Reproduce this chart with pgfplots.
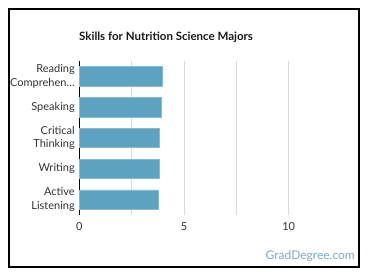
\documentclass[border=0pt]{standalone}
\usepackage{pgfplots}
\pgfplotsset{compat=1.18}
\usepackage{fontspec}
\setmainfont{Lato}
\definecolor{barc}{HTML}{5DA3C1}
\definecolor{barb}{HTML}{86BBD3}
\definecolor{gridc}{HTML}{D9D9D9}
\definecolor{txt}{HTML}{333333}
\definecolor{wm}{HTML}{7AAAC8}
\begin{document}
\begin{tikzpicture}[x=1pt,y=1pt]
\path[fill=white] (0,0) rectangle (370,278);
\draw[line width=1.2pt] (9,11) rectangle (359,269);
\node[font=\bfseries\fontsize{11.5}{13}\selectfont, text=black!90, anchor=west, inner sep=0pt] at (79,241) {Skills for Nutrition Science Majors};
\node[font=\fontsize{12}{14}\selectfont, text=wm, anchor=east, inner sep=0pt] at (355,22) {GradDegree.com};
\begin{axis}[
  at={(79.3pt,63pt)}, anchor=south west,
  scale only axis, width=261.7pt, height=154pt,
  xbar, xmin=0, xmax=12.5, ymin=-0.5, ymax=4.5,
  y dir=reverse,
  bar width=19.5pt,
  ytick={0,1,2,3,4},
  yticklabels={{Reading\\Comprehen…},{Speaking},{Critical\\Thinking},{Writing},{Active\\Listening}},
  yticklabel style={align=right, font=\fontsize{11}{13.5}\selectfont, text=txt, xshift=-1pt},
  xtick={0,5,10},
  minor xtick={2.5,7.5},
  xmajorgrids, xminorgrids,
  major grid style={gridc, line width=0.7pt},
  minor grid style={gridc, line width=0.7pt},
  xticklabel style={font=\fontsize{11}{12}\selectfont, text=txt, yshift=-4pt},
  /pgf/number format/assume math mode=true,
  major tick length=0pt, minor tick length=0pt,
  axis x line*=bottom, axis y line*=left,
  x axis line style={draw=none},
  y axis line style={draw=black, line width=0.8pt, -},
  clip=false,
]
\addplot[fill=barc, draw=barb, line width=0.6pt] coordinates {(3.97,0) (3.92,1) (3.82,2) (3.82,3) (3.77,4)};
\end{axis}
\end{tikzpicture}
\end{document}
